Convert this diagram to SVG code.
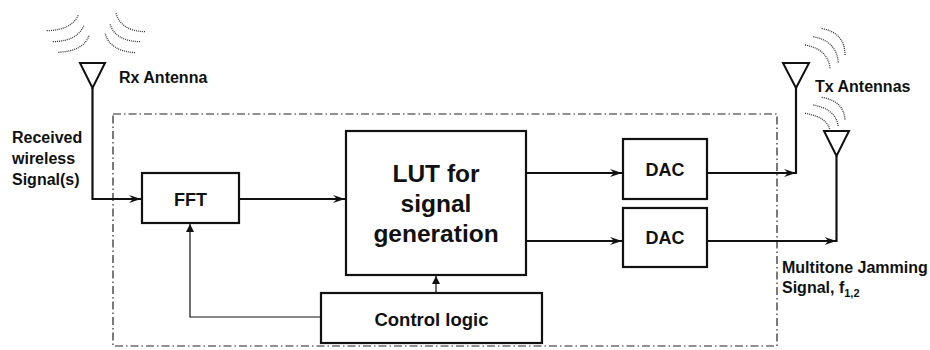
<svg xmlns="http://www.w3.org/2000/svg" width="930" height="350" viewBox="0 0 930 350">
<defs>
<style>
text{font-family:"Liberation Sans",Arial,sans-serif;font-weight:bold;fill:#111}
.box{fill:#fff;stroke:#111;stroke-width:2.2}
.ant{fill:none;stroke:#111;stroke-width:2;stroke-linejoin:miter}
.wire{fill:none;stroke:#111;stroke-width:2.2}
.thin{fill:none;stroke:#111;stroke-width:1.2}
.wave{fill:none;stroke:#333;stroke-width:1.3;stroke-dasharray:1 1}
.frame{fill:none;stroke:#222;stroke-width:1.2;stroke-dasharray:8 3 1.5 3}
.lbl{font-size:16px}
.mid{text-anchor:middle}
</style>
<marker id="arr" viewBox="0 0 12 8" refX="12" refY="4" markerWidth="12" markerHeight="8" markerUnits="userSpaceOnUse" orient="auto">
<path d="M0,0 L12,4 L0,8 L4,4 z" fill="#111"/>
</marker>
<marker id="arrs" viewBox="0 0 8 8" refX="8" refY="4" markerWidth="9" markerHeight="8" markerUnits="userSpaceOnUse" orient="auto">
<path d="M0,0 L8,4 L0,8 z" fill="#111"/>
</marker>
</defs>

<rect class="frame" x="113" y="114" width="664" height="232"/>

<g id="rx-antenna">
<path class="ant" d="M80,63 H105 L92.5,88 Z"/>
<path class="wave" d="M46.7,30.7 Q72,30 78.3,15"/>
<path class="wave" d="M52.7,41.7 Q78,41 84,25"/>
<path class="wave" d="M58.3,52.3 Q84,51 89.3,35"/>
<path class="wave" d="M145,31.7 Q121,31 116,13.3"/>
<path class="wave" d="M140,41.7 Q115,41 110,24"/>
<path class="wave" d="M135,52.7 Q110,51 105,33.3"/>
<text class="lbl" x="119" y="83">Rx Antenna</text>
</g>

<g id="received-label">
<text class="lbl" x="12" y="143">Received</text>
<text class="lbl" x="12" y="164">wireless</text>
<text class="lbl" x="12" y="185">Signal(s)</text>
</g>

<g id="tx-antennas">
<path class="ant" d="M783,63 H809 L796,88 Z"/>
<path class="ant" d="M824,131 H849 L836.5,156 Z"/>
<path class="wave" d="M821.7,28.3 Q845,33 845,55"/>
<path class="wave" d="M813.3,36.7 Q837,41 838.3,63.3"/>
<path class="wave" d="M805,45 Q828,49 830,68.3"/>
<path class="wave" d="M821.7,97.3 Q844,101 845,120"/>
<path class="wave" d="M813.3,105 Q836,109 838.3,126.7"/>
<path class="wave" d="M805,113.3 Q828,117 830,131"/>
<text class="lbl" x="815" y="92">Tx Antennas</text>
</g>

<g id="fft">
<rect class="box" x="142" y="173" width="97" height="50"/>
<text class="mid" x="190.5" y="206" font-size="18">FFT</text>
</g>

<g id="lut">
<rect class="box" x="346" y="131" width="180" height="144"/>
<text class="mid" x="436" y="182" font-size="24.5">LUT for</text>
<text class="mid" x="436" y="212" font-size="24.5">signal</text>
<text class="mid" x="436" y="242" font-size="24.5">generation</text>
</g>

<g id="dac1">
<rect class="box" x="623" y="139" width="84" height="60"/>
<text class="mid" x="665" y="176" font-size="18">DAC</text>
</g>

<g id="dac2">
<rect class="box" x="623" y="208" width="84" height="59"/>
<text class="mid" x="665" y="244" font-size="18">DAC</text>
</g>

<g id="control">
<rect class="box" x="321" y="293" width="221" height="50"/>
<text class="mid" x="431.5" y="326" font-size="18.5">Control logic</text>
</g>

<g id="jamming-label">
<text class="lbl" x="782" y="273">Multitone Jamming</text>
<text class="lbl" x="782" y="293">Signal, f<tspan font-size="11" dy="4">1,2</tspan></text>
</g>

<g id="connectors">
<path class="wire" d="M92.5,88 V199 H141" marker-end="url(#arr)"/>
<path class="wire" d="M239,199 H345" marker-end="url(#arr)"/>
<path class="wire" d="M526,173 H622" marker-end="url(#arr)"/>
<path class="wire" d="M526,241 H622" marker-end="url(#arr)"/>
<path class="wire" d="M707,173 H796" marker-end="url(#arr)"/>
<path class="wire" d="M796,174 V88"/>
<path class="wire" d="M707,241 H836.5" marker-end="url(#arr)"/>
<path class="wire" d="M836.5,242 V156"/>
<path class="thin" d="M436,293 V276" marker-end="url(#arrs)"/>
<path class="thin" d="M321,317 H190 V224" marker-end="url(#arrs)"/>
</g>
</svg>
